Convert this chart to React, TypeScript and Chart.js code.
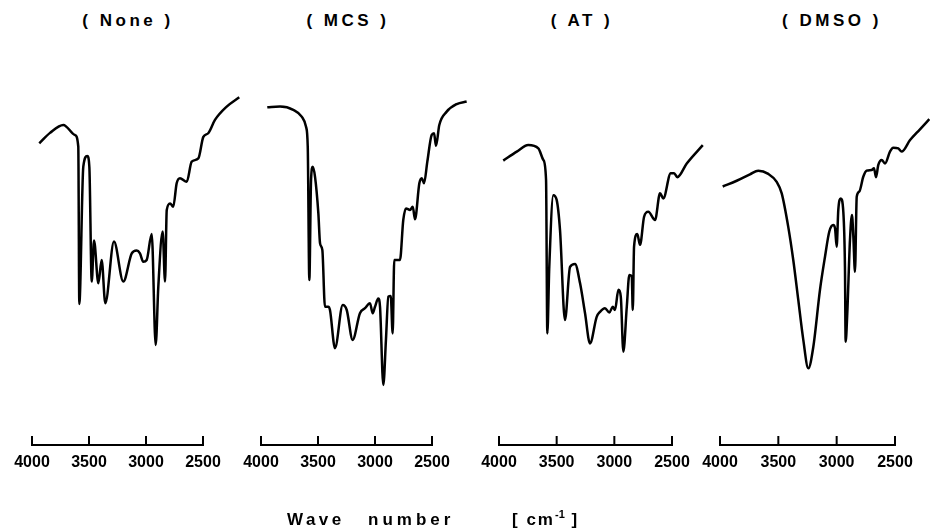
import React, { useEffect, useRef } from "react";
import { Chart, registerables } from "chart.js";

Chart.register(...registerables);

// ---------- data ----------
const PANEL_TITLES = ["( None )", "( MCS )", "( AT )", "( DMSO )"];
const X_TICKS = [4000, 3500, 3000, 2500];
const AXIS_TITLE_A = "Wave";
const AXIS_TITLE_B = "number";

// (None)
const NONE_WN = [3936, 3842, 3725, 3623, 3594, 3585, 3550, 3515, 3497, 3476, 3456, 3418, 3389, 3357, 3281, 3199, 3125, 3082, 3053, 3024, 2994, 2950, 2915, 2892, 2854, 2833, 2818, 2789, 2761, 2731, 2702, 2643, 2599, 2541, 2497, 2454, 2395, 2292, 2182];
const NONE_T = [83.8, 86.7, 88.9, 86.1, 82.9, 39.2, 77.3, 80.3, 77.3, 45.4, 56.8, 44.9, 51.4, 39.4, 56.5, 45.4, 53.2, 54.0, 53.2, 50.9, 51.4, 58.6, 27.8, 44.0, 59.3, 45.4, 65.3, 67.1, 66.2, 72.7, 74.1, 73.1, 78.7, 79.6, 85.6, 86.6, 90.3, 94.0, 96.6];

// (MCS)
const MCS_WN = [3945, 3833, 3717, 3643, 3605, 3590, 3576, 3561, 3546, 3526, 3497, 3482, 3462, 3439, 3410, 3395, 3351, 3283, 3248, 3196, 3132, 3088, 3044, 3020, 3000, 2971, 2956, 2927, 2904, 2883, 2862, 2845, 2831, 2781, 2752, 2728, 2693, 2669, 2649, 2611, 2590, 2570, 2541, 2503, 2482, 2465, 2436, 2371, 2283, 2196];
const MCS_T = [93.8, 94.0, 93.1, 91.2, 88.4, 82.9, 45.8, 73.6, 77.3, 74.5, 64.4, 56.0, 54.2, 38.4, 38.4, 37.5, 26.9, 38.9, 37.5, 29.2, 36.6, 38.0, 39.4, 36.6, 38.4, 40.7, 38.4, 16.7, 29.2, 41.2, 41.4, 31.0, 51.4, 51.4, 62.5, 65.7, 65.3, 66.2, 62.7, 72.7, 74.1, 72.7, 78.7, 86.1, 86.6, 83.1, 88.9, 92.6, 94.7, 95.4];

// (AT)
const AT_WN = [3963, 3846, 3746, 3659, 3616, 3592, 3581, 3564, 3529, 3500, 3471, 3428, 3384, 3341, 3297, 3254, 3211, 3153, 3124, 3081, 3043, 3014, 2994, 2965, 2944, 2922, 2892, 2870, 2849, 2840, 2829, 2801, 2777, 2742, 2705, 2647, 2604, 2575, 2511, 2482, 2454, 2372, 2233];
const AT_T = [79.0, 81.5, 83.3, 82.4, 79.2, 73.6, 31.0, 49.5, 69.4, 68.1, 59.7, 34.7, 49.5, 50.3, 44.9, 36.6, 28.2, 35.6, 37.0, 38.0, 36.8, 38.4, 37.5, 43.1, 41.2, 25.9, 38.4, 47.2, 46.9, 37.5, 55.1, 58.6, 55.6, 63.4, 64.8, 62.5, 69.9, 68.5, 75.5, 75.5, 74.4, 78.2, 83.3];

// (DMSO)
const DMSO_WN = [3977, 3857, 3743, 3672, 3586, 3514, 3471, 3415, 3372, 3329, 3286, 3243, 3200, 3143, 3100, 3063, 3029, 3014, 3000, 2986, 2965, 2943, 2929, 2923, 2909, 2886, 2869, 2857, 2843, 2828, 2806, 2772, 2743, 2700, 2680, 2663, 2643, 2614, 2586, 2543, 2515, 2472, 2443, 2371, 2286, 2206];
const DMSO_T = [71.8, 73.4, 75.2, 76.2, 75.3, 73.1, 69.9, 60.6, 51.4, 40.3, 29.2, 21.3, 27.3, 43.1, 52.3, 59.3, 61.1, 60.2, 55.1, 65.3, 68.5, 64.8, 49.5, 28.7, 36.6, 56.9, 63.9, 57.9, 48.1, 69.0, 70.4, 74.5, 76.2, 76.4, 76.9, 74.4, 77.8, 79.2, 78.2, 81.5, 82.6, 82.4, 81.5, 84.7, 87.7, 90.5];

const SERIES_WN = [NONE_WN, MCS_WN, AT_WN, DMSO_WN];
const SERIES_T = [NONE_T, MCS_T, AT_T, DMSO_T];

// ---------- layout ----------
const W = 930;
const H = 532;
const AXIS_LEFT = [32, 261, 499, 720]; // pixel of 4000
const AXIS_RIGHT = [203, 432, 672, 895]; // pixel of 2500
const TITLE_CENTER = [128, 348, 582, 832];
const FONT = "'Liberation Sans', Arial, sans-serif";

const bracketPlugin = {
  id: "bracket",
  afterDraw(chart: any) {
    const xs = chart.scales.x;
    const y = chart.chartArea.bottom;
    const ctx = chart.ctx;
    ctx.save();
    ctx.strokeStyle = "#000";
    ctx.lineWidth = 2;
    ctx.lineCap = "butt";
    const a = xs.getPixelForValue(X_TICKS[0]);
    const b = xs.getPixelForValue(X_TICKS[X_TICKS.length - 1]);
    ctx.beginPath();
    ctx.moveTo(a - 1, y);
    ctx.lineTo(b + 1, y);
    X_TICKS.forEach((t) => {
      const p = xs.getPixelForValue(t);
      ctx.moveTo(p, y);
      ctx.lineTo(p, y - 9);
    });
    ctx.stroke();
    ctx.restore();
  },
};

function Panel({ idx }: { idx: number }) {
  const ref = useRef<HTMLCanvasElement | null>(null);
  useEffect(() => {
    if (!ref.current) return;
    const wn = SERIES_WN[idx];
    const tr = SERIES_T[idx];
    const chart = new Chart(ref.current, {
      type: "line",
      data: {
        datasets: [
          {
            data: wn.map((w, i) => ({ x: w, y: tr[i] })),
            borderColor: "#000",
            borderWidth: 2.5,
            pointRadius: 0,
            fill: false,
            cubicInterpolationMode: "monotone",
            clip: false as any,
          },
        ],
      },
      options: {
        responsive: false,
        animation: false,
        events: [],
        layout: {
          padding: { left: AXIS_LEFT[idx], right: W - AXIS_RIGHT[idx], top: 85, bottom: 0 },
        },
        plugins: { legend: { display: false }, tooltip: { enabled: false }, title: { display: false } },
        scales: {
          x: {
            type: "linear",
            reverse: true,
            bounds: "data",
            afterDataLimits: (s: any) => {
              s.min = X_TICKS[X_TICKS.length - 1];
              s.max = X_TICKS[0];
            },
            afterBuildTicks: (s: any) => {
              s.ticks = X_TICKS.map((v) => ({ value: v }));
            },
            afterFit: (s: any) => {
              s.height = H - 445;
            },
            grid: { display: false, drawTicks: false },
            border: { display: false },
            ticks: {
              autoSkip: false,
              maxRotation: 0,
              padding: 8,
              color: "#000",
              font: { family: FONT, size: 16, weight: "bold" },
              callback: (v: any) => String(v),
            },
          },
          y: { display: false, min: 0, max: 100 },
        },
      },
      plugins: [bracketPlugin],
    } as any);
    return () => chart.destroy();
  }, [idx]);
  return (
    <canvas
      ref={ref}
      width={W}
      height={H}
      style={{ position: "absolute", left: 0, top: 0, width: W, height: H }}
    />
  );
}

export default function App() {
  const textStyle: React.CSSProperties = {
    position: "absolute",
    fontFamily: FONT,
    fontWeight: "bold",
    fontSize: 17,
    color: "#000",
    whiteSpace: "pre",
    lineHeight: "20px",
  };
  return (
    <div style={{ position: "absolute", left: 0, top: 0, width: W, height: H, background: "#fff", overflow: "hidden" }}>
      {PANEL_TITLES.map((t, i) => (
        <div
          key={t}
          style={{ ...textStyle, top: 11, left: TITLE_CENTER[i], transform: "translateX(-50%)", letterSpacing: 3.5 }}
        >
          {t}
        </div>
      ))}
      {[0, 1, 2, 3].map((i) => (
        <Panel key={i} idx={i} />
      ))}
      <div style={{ ...textStyle, top: 510, left: 287, letterSpacing: 3.5 }}>{AXIS_TITLE_A}</div>
      <div style={{ ...textStyle, top: 510, left: 368, letterSpacing: 4 }}>{AXIS_TITLE_B}</div>
      <div style={{ ...textStyle, top: 510, left: 512, letterSpacing: 2 }}>
        {"[ cm"}
        <sup style={{ fontSize: 11, lineHeight: 0, letterSpacing: 0 }}>-1</sup>
        {" ]"}
      </div>
    </div>
  );
}
